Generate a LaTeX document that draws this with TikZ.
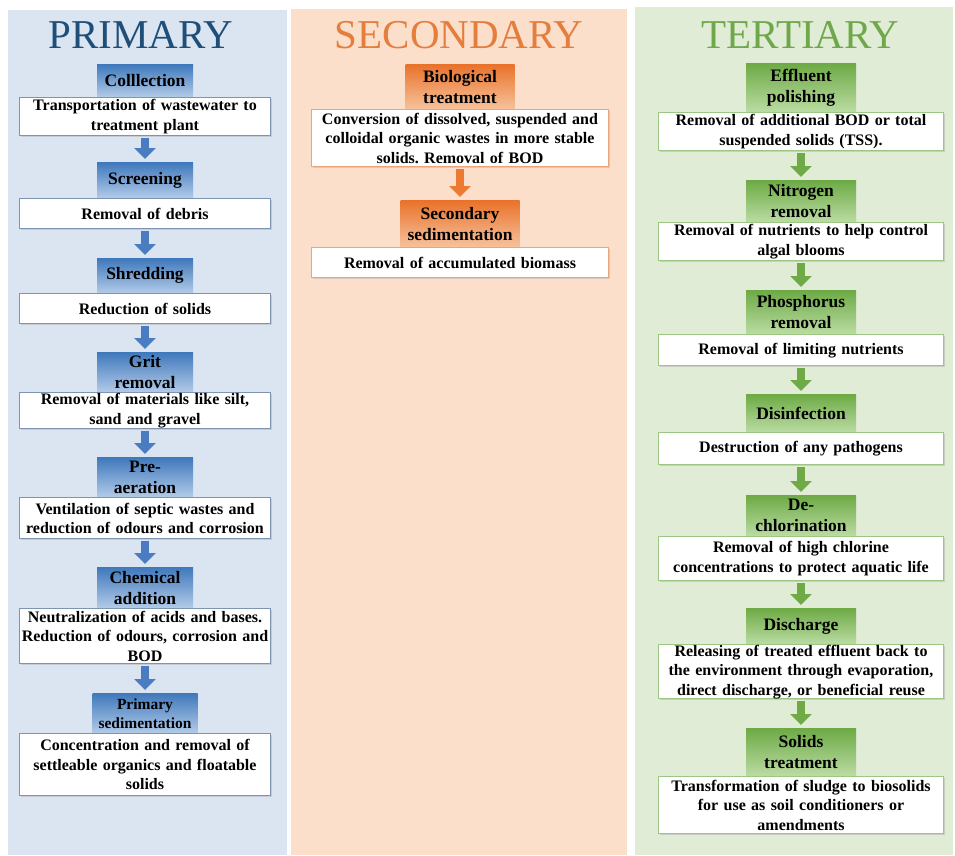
\documentclass[tikz,border=0pt]{standalone}
\usepackage{fontspec}
\setmainfont{Liberation Serif}
\usetikzlibrary{arrows.meta,shadows}
\frenchspacing
\definecolor{navy}{HTML}{1F4E79}
\definecolor{pumpkin}{HTML}{E57E3C}
\definecolor{leaf}{HTML}{6FA84B}
\definecolor{bluePanel}{HTML}{DBE5F1}
\definecolor{peachPanel}{HTML}{FBDFCB}
\definecolor{greenPanel}{HTML}{E0ECD6}
\definecolor{blueTop}{HTML}{3F78BC}
\definecolor{blueBot}{HTML}{B3CBE8}
\definecolor{orangeTop}{HTML}{E8722A}
\definecolor{orangeBot}{HTML}{F7C29C}
\definecolor{greenTop}{HTML}{6DAA45}
\definecolor{greenBot}{HTML}{BBDCA3}
\definecolor{blueLine}{HTML}{7F94B2}
\definecolor{orangeLine}{HTML}{EBA57A}
\definecolor{greenLine}{HTML}{9DC584}
\definecolor{blueArrow}{HTML}{4A7CC2}
\definecolor{orangeArrow}{HTML}{EC7A30}
\definecolor{greenArrow}{HTML}{6FAA46}

\begin{document}
\begin{tikzpicture}[x=1pt,y=-1pt,
    title/.style={anchor=base,font=\fontsize{41}{41}\selectfont},
    hdr/.style={anchor=north,inner sep=0pt,align=center,
      font=\bfseries\fontsize{17.5}{21}\selectfont},
    phdr/.style={hdr,top color=blueTop,bottom color=blueBot,minimum width=96pt},
    shdr/.style={hdr,top color=orangeTop,bottom color=orangeBot},
    thdr/.style={hdr,top color=greenTop,bottom color=greenBot,minimum width=110pt},
    box/.style={anchor=north,fill=white,line width=0.7pt,inner xsep=1pt,inner ysep=0pt,
      align=center,font=\bfseries\fontsize{16}{19.5}\selectfont,
      drop shadow={shadow xshift=1pt,shadow yshift=-1.2pt,opacity=0.25}},
    pbox/.style={box,draw=blueLine,text width=249pt},
    sbox/.style={box,draw=orangeLine,text width=295pt},
    tbox/.style={box,draw=greenLine,text width=283pt},
    down/.style={draw=#1,line width=8pt,-{Triangle[width=21pt,length=11pt]},
      shorten <=2pt,shorten >=3pt}]

  \useasboundingbox (0,0) rectangle (955,855);
  \fill[white] (0,0) rectangle (955,855);

  % panels
  \fill[bluePanel] (8,10) rectangle (287,855);
  \fill[peachPanel] (291,9) rectangle (627,855);
  \fill[greenPanel] (635,7) rectangle (953,855);

  \node[title,text=navy] (primTitle) at (141,48) {PRIMARY};
  \node[title,text=pumpkin] (secTitle) at (459,48) {SECONDARY};
  \node[title,text=leaf] (terTitle) at (800,48) {TERTIARY};

  % primary
  \node[phdr,minimum height=33pt] (p1h) at (145,64) {Colllection};
  \node[pbox,minimum height=38pt] (p1d) at (p1h.south) {Transportation of wastewater to\\treatment plant};
  \node[phdr,minimum height=36pt] (p2h) at (145,162) {Screening};
  \node[pbox,minimum height=30pt] (p2d) at (p2h.south) {Removal of debris};
  \node[phdr,minimum height=35pt] (p3h) at (145,258) {Shredding};
  \node[pbox,minimum height=30pt] (p3d) at (p3h.south) {Reduction of solids};
  \node[phdr,minimum height=40pt] (p4h) at (145,352) {Grit\\removal};
  \node[pbox,minimum height=36pt] (p4d) at (p4h.south) {Removal of materials like silt,\\sand and gravel};
  \node[phdr,minimum height=40pt] (p5h) at (145,457) {Pre-\\aeration};
  \node[pbox,minimum height=41pt] (p5d) at (p5h.south) {Ventilation of septic wastes and\\reduction of odours and corrosion};
  \node[phdr,minimum height=41pt] (p6h) at (145,567) {Chemical\\addition};
  \node[pbox,minimum height=55pt] (p6d) at (p6h.south) {Neutralization of acids and bases.\\Reduction of odours, corrosion and\\BOD};
  \node[phdr,minimum width=105pt,minimum height=40pt,font=\bfseries\fontsize{15.5}{19}\selectfont] (p7h) at (145,693) {Primary\\sedimentation};
  \node[pbox,minimum height=62pt] (p7d) at (p7h.south) {Concentration and removal of\\settleable organics and floatable\\solids};

  \draw[down=blueArrow] (p1d) -- (p2h);
  \draw[down=blueArrow] (p2d) -- (p3h);
  \draw[down=blueArrow] (p3d) -- (p4h);
  \draw[down=blueArrow] (p4d) -- (p5h);
  \draw[down=blueArrow] (p5d) -- (p6h);
  \draw[down=blueArrow] (p6d) -- (p7h);

  % secondary
  \node[shdr,minimum width=109pt,minimum height=45pt] (s1h) at (460,64) {Biological\\treatment};
  \node[sbox,minimum height=57pt] (s1d) at (s1h.south) {Conversion of dissolved, suspended and\\colloidal organic wastes in more stable\\solids. Removal of BOD};
  \node[shdr,minimum width=119pt,minimum height=47pt] (s2h) at (460,200) {Secondary\\sedimentation};
  \node[sbox,minimum height=30pt] (s2d) at (s2h.south) {Removal of accumulated biomass};

  \draw[down=orangeArrow] (s1d) -- (s2h);

  % tertiary
  \node[thdr,minimum height=49pt] (t1h) at (801,63) {Effluent\\polishing};
  \node[tbox,minimum height=38pt] (t1d) at (t1h.south) {Removal of additional BOD or total\\suspended solids (TSS).};
  \node[thdr,minimum height=42pt] (t2h) at (801,180) {Nitrogen\\removal};
  \node[tbox,minimum height=38pt] (t2d) at (t2h.south) {Removal of nutrients to help control\\algal blooms};
  \node[thdr,minimum height=44pt] (t3h) at (801,290) {Phosphorus\\removal};
  \node[tbox,minimum height=31pt] (t3d) at (t3h.south) {Removal of limiting nutrients};
  \node[thdr,minimum height=38pt] (t4h) at (801,394) {Disinfection};
  \node[tbox,minimum height=32pt] (t4d) at (t4h.south) {Destruction of any pathogens};
  \node[thdr,minimum height=41pt] (t5h) at (801,495) {De-\\chlorination};
  \node[tbox,minimum height=44pt] (t5d) at (t5h.south) {Removal of high chlorine\\concentrations to protect aquatic life};
  \node[thdr,minimum height=36pt] (t6h) at (801,608) {Discharge};
  \node[tbox,minimum height=54pt] (t6d) at (t6h.south) {Releasing of treated effluent back to\\the environment through evaporation,\\direct discharge, or beneficial reuse};
  \node[thdr,minimum height=48pt] (t7h) at (801,728) {Solids\\treatment};
  \node[tbox,minimum height=57pt] (t7d) at (t7h.south) {Transformation of sludge to biosolids\\for use as soil conditioners or\\amendments};

  \draw[down=greenArrow] (t1d) -- (t2h);
  \draw[down=greenArrow] (t2d) -- (t3h);
  \draw[down=greenArrow] (t3d) -- (t4h);
  \draw[down=greenArrow] (t4d) -- (t5h);
  \draw[down=greenArrow] (t5d) -- (t6h);
  \draw[down=greenArrow] (t6d) -- (t7h);
\end{tikzpicture}
\end{document}
